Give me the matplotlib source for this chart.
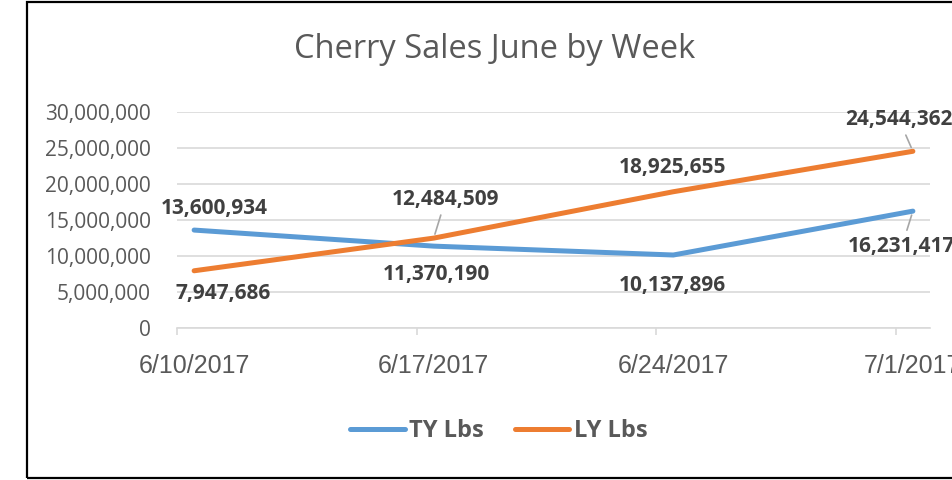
import pandas as pd
import matplotlib
matplotlib.use("Agg")
import matplotlib.pyplot as plt
from matplotlib.patches import Rectangle

plt.rcParams["font.family"] = ["Open Sans", "DejaVu Sans"]

# data
weeks = ["6/10/2017", "6/17/2017", "6/24/2017", "7/1/2017"]
ty_lbs = [13600934, 11370190, 10137896, 16231417]
ly_lbs = [7947686, 12484509, 18925655, 24544362]

# label offsets (pixels) relative to each point, ty then ly
ty_offsets = [(20, 22), (3, -28), (-1, -30), (-11, -35)]
ly_offsets = [(29, -23), (12, 39), (-1, 24), (-14, 32)]
ly_leader = [False, True, False, True]
ty_leader = [False, False, False, True]

BLUE = "#5B9BD5"
ORANGE = "#ED7D31"
GRID = "#D9D9D9"
TXT = "#595959"
LBL = "#404040"

dates = pd.to_datetime(weeks)
days = (dates - dates[0]).days.values

fig = plt.figure(figsize=(9.53, 4.8), dpi=100)
ax = fig.add_axes([177 / 953, 152 / 480, (930 - 177) / 953, 216 / 480])

ax.plot(days, ty_lbs, color=BLUE, lw=3.6, solid_capstyle="round", solid_joinstyle="round", label="TY Lbs", zorder=3)
ax.plot(days, ly_lbs, color=ORANGE, lw=3.6, solid_capstyle="round", solid_joinstyle="round", label="LY Lbs", zorder=4)

ax.set_xlim(-0.5, 21.5)
ax.set_ylim(0, 30000000)
ax.set_yticks(range(0, 30000001, 5000000))
ax.set_yticklabels([f"{v:,}" for v in range(0, 30000001, 5000000)], fontfamily="Open Sans")
ax.grid(axis="y", color=GRID, lw=1.2)
ax.set_axisbelow(True)
for s in ["top", "right", "left"]:
    ax.spines[s].set_visible(False)
ax.spines["bottom"].set_color(GRID)
ax.spines["bottom"].set_linewidth(1.2)

# points sit mid-week on a day axis, tick marks fall half a day before each point
ax.set_xticks(days)
ax.set_xticklabels(weeks, fontfamily="Liberation Sans")
ax.set_xticks(days - 0.5, minor=True)
ax.tick_params(axis="x", which="major", length=0, pad=18.5, labelsize=18, labelcolor=TXT)
ax.tick_params(axis="x", which="minor", length=5, width=1.2, color=GRID)
ax.tick_params(axis="y", length=0, pad=19, labelcolor=TXT, labelsize=15)


def label(x, y, off, leader):
    kw = {}
    if leader:
        kw["arrowprops"] = dict(arrowstyle="-", color="#A6A6A6", lw=1.2, shrinkA=2, shrinkB=3)
    ax.annotate(f"{y:,}", (x, y), xytext=off, textcoords="offset pixels",
                ha="center", va="center", fontsize=15, fontweight="bold",
                fontfamily="Open Sans", color=LBL, annotation_clip=False, zorder=5, **kw)


for x, y, o, l in zip(days, ty_lbs, ty_offsets, ty_leader):
    label(x, y, o, l)
for x, y, o, l in zip(days, ly_lbs, ly_offsets, ly_leader):
    label(x, y, o, l)

fig.text(495 / 953, 1 - 50 / 480, "Cherry Sales June by Week", ha="center", va="center",
         fontsize=23.5, color=TXT, fontfamily="Open Sans")

leg = fig.legend(loc="center", bbox_to_anchor=(499 / 953, 1 - 431 / 480), ncol=2, frameon=False,
                 handlelength=2.3, handletextpad=0.2, columnspacing=1.3,
                 prop={"family": "Open Sans", "weight": "bold", "size": 17})
for t in leg.get_texts():
    t.set_color(TXT)
for h in leg.get_lines():
    h.set_solid_capstyle("round")

# outer chart border (right edge runs off the picture)
fig.patches.append(Rectangle((27 / 953, 2 / 480), 1.0, 476 / 480, transform=fig.transFigure,
                             fill=False, edgecolor="black", lw=1.6, clip_on=False))

fig.savefig("out.png", dpi=100)
